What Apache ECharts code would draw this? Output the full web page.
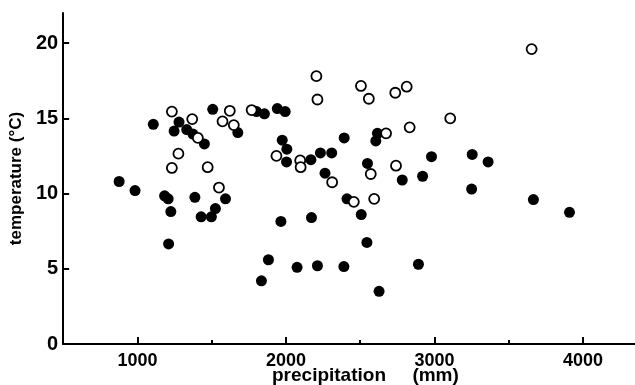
<!DOCTYPE html>
<html>
<head>
<meta charset="utf-8">
<script src="https://cdn.jsdelivr.net/npm/echarts@6/dist/echarts.min.js"></script>
<style>
  html, body { margin: 0; padding: 0; background: #fff; }
  #chart { width: 635px; height: 385px; }
</style>
</head>
<body>
<div id="chart"></div>
<script>
// precipitation (mm), temperature (°C) — filled circles
var filledPrecip = [877, 984, 1107, 1183, 1207, 1225, 1210, 1247, 1280, 1332, 1374, 1387, 1429, 1451,
  1498, 1507, 1525, 1593, 1676, 1802, 1835, 1855, 1882, 1942, 1966, 1975, 1995, 2004, 2006, 2075,
  2168, 2172, 2212, 2232, 2263, 2308, 2390, 2392, 2411, 2507, 2545, 2549, 2605, 2616, 2627, 2783,
  2892, 2920, 2980, 3250, 3254, 3361, 3666, 3909];
var filledTemp = [10.8, 10.2, 14.6, 9.85, 9.65, 8.8, 6.65, 14.15, 14.75, 14.25, 13.95, 9.75, 8.45, 13.3,
  8.45, 15.6, 9.0, 9.65, 14.05, 15.45, 4.2, 15.3, 5.6, 15.65, 8.15, 13.55, 15.45, 12.1, 12.95, 5.1,
  12.25, 8.4, 5.2, 12.7, 11.35, 12.7, 5.15, 13.7, 9.65, 8.6, 6.75, 12.0, 13.5, 14.0, 3.5, 10.9,
  5.3, 11.15, 12.45, 10.3, 12.6, 12.1, 9.6, 8.75];

// open circles
var openPrecip = [1232, 1232, 1276, 1369, 1407, 1473, 1549, 1573, 1622, 1649, 1769, 1936, 2096, 2099,
  2205, 2212, 2311, 2457, 2505, 2558, 2571, 2594, 2674, 2736, 2741, 2813, 2833, 3106, 3654];
var openTemp = [15.45, 11.7, 12.65, 14.95, 13.7, 11.75, 10.4, 14.8, 15.5, 14.55, 15.55, 12.5, 12.2, 11.75,
  17.8, 16.25, 10.75, 9.45, 17.15, 16.3, 11.3, 9.65, 14.0, 16.7, 11.85, 17.1, 14.4, 15.0, 19.6];

var xLabels = [1000, 2000, 3000, 4000];
var xMinorTicks = [1500, 2500, 3500];
var yLabels = [0, 5, 10, 15, 20];

function pairs(xs, ys) {
  return xs.map(function (x, i) { return [x, ys[i]]; });
}

var numFont = {
  color: '#000',
  fontFamily: 'Liberation Sans',
  fontWeight: 'bold',
  formatter: function (v) { return String(v); }
};

var option = {
  backgroundColor: '#fff',
  animation: false,
  grid: { left: 55, right: 0, top: 13, bottom: 41 },
  xAxis: [
    {
      type: 'value',
      min: 500,
      max: 4350,
      interval: 500,
      splitLine: { show: false },
      axisLine: { onZero: false, lineStyle: { color: '#000', width: 2 } },
      axisTick: { inside: true, length: 7, customValues: xLabels, lineStyle: { color: '#000', width: 2 } },
      axisLabel: Object.assign({ fontSize: 18, margin: 8, customValues: xLabels }, numFont)
    },
    {
      type: 'value',
      min: 500,
      max: 4350,
      interval: 500,
      position: 'bottom',
      splitLine: { show: false },
      axisLine: { show: false },
      axisTick: { inside: true, length: 4, customValues: xMinorTicks, lineStyle: { color: '#000', width: 2 } },
      axisLabel: { show: false }
    }
  ],
  yAxis: {
    type: 'value',
    min: 0,
    max: 22,
    interval: 5,
    name: 'temperature (°C)',
    nameLocation: 'middle',
    nameGap: 27,
    nameTextStyle: { color: '#000', fontFamily: 'Liberation Sans', fontWeight: 'bold', fontSize: 17 },
    splitLine: { show: false },
    axisLine: { lineStyle: { color: '#000', width: 2 } },
    axisTick: { inside: true, length: 6, customValues: yLabels, lineStyle: { color: '#000', width: 2 } },
    axisLabel: Object.assign({ fontSize: 20, margin: 5, customValues: yLabels }, numFont)
  },
  graphic: [{
    type: 'text',
    left: 272,
    top: 366,
    style: {
      text: 'precipitation     (mm)',
      fill: '#000',
      font: 'bold 19px "Liberation Sans"'
    }
  }],
  series: [
    {
      type: 'scatter',
      symbol: 'circle',
      symbolSize: 11,
      itemStyle: { color: '#000', opacity: 1 },
      data: pairs(filledPrecip, filledTemp)
    },
    {
      type: 'scatter',
      symbol: 'circle',
      symbolSize: 10,
      itemStyle: { color: '#fff', borderColor: '#000', borderWidth: 1.8, opacity: 1 },
      data: pairs(openPrecip, openTemp)
    }
  ]
};

var myChart = echarts.init(document.getElementById('chart'));
myChart.setOption(option);
</script>
</body>
</html>
